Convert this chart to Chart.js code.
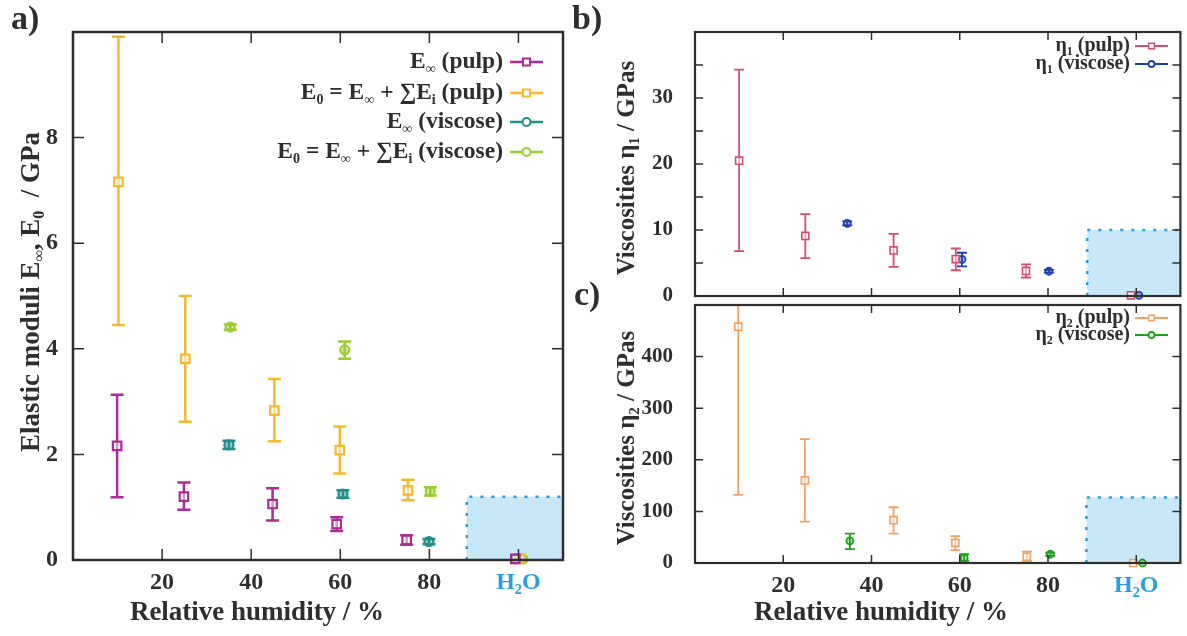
<!DOCTYPE html>
<html>
<head>
<meta charset="utf-8">
<script src="https://cdn.jsdelivr.net/npm/chart.js@4.4.1/dist/chart.umd.min.js"></script>
<style>
  html, body { margin: 0; padding: 0; background: #fff; }
  #wrap { position: relative; width: 1187px; height: 636px; }
  #wrap canvas { position: absolute; left: 0; top: 0; }
</style>
</head>
<body>
<div id="wrap">
  <canvas id="chart-a" width="1187" height="636"></canvas>
  <canvas id="chart-b" width="1187" height="636"></canvas>
  <canvas id="chart-c" width="1187" height="636"></canvas>
</div>
<script>
const serif = '"Liberation Serif", "Times New Roman", serif';
const ink = "#2e2e2e";
const water = "#2a9fe0";
const shadeFill = "#c8e8f7";

// Shared x axis: relative humidity in %, pure water parked at 100.
const rhTicks = [20, 40, 60, 80, 100];
const rhTickLabels = ["20", "40", "60", "80", "H₂O"];

// a) elastic moduli, GPa
const modTicks = [0, 2, 4, 6, 8];
const modTickLabels = ["0", "2", "4", "6", "8"];
const eInfPulpRH = [9.9, 24.9, 44.8, 59.2, 74.9, 99.3];
const eInfPulp = [2.16, 1.2, 1.06, 0.68, 0.38, 0.02];
const eInfPulpLo = [1.19, 0.95, 0.75, 0.55, 0.29, 0.02];
const eInfPulpHi = [3.13, 1.47, 1.36, 0.81, 0.47, 0.02];
const e0PulpRH = [10.2, 25.2, 45.2, 59.9, 75.2, 100.5];
const e0Pulp = [7.16, 3.81, 2.83, 2.08, 1.32, 0.02];
const e0PulpLo = [4.45, 2.62, 2.25, 1.64, 1.13, 0.02];
const e0PulpHi = [9.91, 5.0, 3.43, 2.53, 1.52, 0.02];
const eInfViscRH = [35.0, 60.6, 79.9, 99.3];
const eInfVisc = [2.18, 1.25, 0.35, 0.02];
const eInfViscLo = [2.1, 1.18, 0.3, 0.02];
const eInfViscHi = [2.26, 1.32, 0.4, 0.02];
const e0ViscRH = [35.3, 61.0, 80.2, 101.0];
const e0Visc = [4.41, 3.98, 1.3, 0.02];
const e0ViscLo = [4.36, 3.81, 1.22, 0.02];
const e0ViscHi = [4.46, 4.14, 1.38, 0.02];
const waterBoxA = [88.4, 110, 0, 1.2];

// b) viscosity eta1, GPas
const eta1Ticks = [0, 5, 10, 15, 20, 25, 30, 35];
const eta1TickLabels = ["0", "", "10", "", "20", "", "30", ""];
const eta1PulpRH = [10.0, 25.0, 45.0, 59.1, 75.0, 98.8];
const eta1Pulp = [20.5, 9.1, 6.9, 5.6, 3.8, 0.1];
const eta1PulpLo = [6.8, 5.75, 4.4, 3.9, 2.8, 0.1];
const eta1PulpHi = [34.3, 12.4, 9.4, 7.2, 4.8, 0.1];
const eta1ViscRH = [34.5, 60.5, 80.2, 100.6];
const eta1Visc = [11.0, 5.55, 3.75, 0.1];
const eta1ViscLo = [10.7, 4.5, 3.55, 0.1];
const eta1ViscHi = [11.3, 6.55, 3.95, 0.1];
const waterBoxB = [88.9, 110, 0, 10];

// c) viscosity eta2, GPas
const eta2Ticks = [0, 100, 200, 300, 400];
const eta2TickLabels = ["0", "100", "200", "300", "400"];
const eta2PulpRH = [9.8, 24.9, 45.0, 59.0, 75.2, 99.3];
const eta2Pulp = [458, 160, 83, 39, 12, 0];
const eta2PulpLo = [132, 80, 57, 25, 4, 0];
const eta2PulpHi = [560, 240, 108, 52, 22, 0];
const eta2ViscRH = [35.1, 61.0, 80.5, 101.4];
const eta2Visc = [43, 10, 17, 0];
const eta2ViscLo = [27, 4, 14, 0];
const eta2ViscHi = [57, 17, 20, 0];
const waterBoxC = [88.7, 110, 0, 127];

// Draws text with subscripts; nested arrays are subscript runs.
function drawRich(ctx, parts, x, y, size, align) {
  const base = "bold " + size + "px " + serif;
  const small = "bold " + Math.round(size * 0.6) + "px " + serif;
  let total = 0;
  const segs = parts.map((p) => {
    const sub = Array.isArray(p);
    const t = sub ? p[0] : p;
    ctx.font = sub ? small : base;
    const w = ctx.measureText(t).width;
    total += w;
    return { t, sub, w };
  });
  let cx = align === "right" ? x - total : align === "center" ? x - total / 2 : x;
  ctx.textAlign = "left";
  ctx.textBaseline = "middle";
  segs.forEach((s) => {
    ctx.font = s.sub ? small : base;
    ctx.fillText(s.t, cx, s.sub ? y + size * 0.3 : y);
    cx += s.w;
  });
}

function drawMark(ctx, style, x, y, r, color, fill, w) {
  ctx.save();
  ctx.strokeStyle = color;
  ctx.fillStyle = fill;
  ctx.lineWidth = w;
  ctx.beginPath();
  if (style === "rect") {
    const s = r * Math.SQRT1_2;
    ctx.rect(x - s, y - s, 2 * s, 2 * s);
  } else {
    ctx.arc(x, y, r, 0, Math.PI * 2);
  }
  ctx.fill();
  ctx.stroke();
  ctx.restore();
}

function series(rh, val, lo, hi, color, fill, style, radius, width) {
  return {
    data: rh.map((x, i) => ({ x: x, y: val[i] })),
    errLo: lo,
    errHi: hi,
    borderColor: color,
    backgroundColor: fill,
    pointStyle: style,
    pointRadius: radius,
    pointHoverRadius: radius,
    pointBorderWidth: width,
    showLine: false,
    clip: false,
  };
}

// Frame, inward ticks, error bars, water box, legend and titles.
function panelPlugin(cfg) {
  return {
    id: "panel",
    beforeDatasetsDraw(chart) {
      const { ctx, chartArea: area, scales: { x, y } } = chart;
      const b = cfg.box;
      const l = x.getPixelForValue(b[0]), r = x.getPixelForValue(b[1]);
      const t = y.getPixelForValue(b[3]), bt = y.getPixelForValue(b[2]);
      ctx.save();
      ctx.fillStyle = shadeFill;
      ctx.fillRect(l, t, r - l, bt - t);
      ctx.strokeStyle = water;
      ctx.lineWidth = 2.5;
      ctx.setLineDash([3, 8]);
      ctx.beginPath();
      ctx.moveTo(l, bt);
      ctx.lineTo(l, t);
      ctx.lineTo(r, t);
      ctx.stroke();
      ctx.restore();

      ctx.save();
      ctx.beginPath();
      ctx.rect(area.left, area.top, area.right - area.left, area.bottom - area.top);
      ctx.clip();
      chart.data.datasets.forEach((ds) => {
        ctx.strokeStyle = ds.borderColor;
        ctx.lineWidth = cfg.barWidth;
        ds.data.forEach((p, i) => {
          if (ds.errHi[i] - ds.errLo[i] <= 0) return;
          const px = x.getPixelForValue(p.x);
          const pl = y.getPixelForValue(ds.errLo[i]);
          const ph = y.getPixelForValue(ds.errHi[i]);
          ctx.beginPath();
          ctx.moveTo(px, pl);
          ctx.lineTo(px, ph);
          ctx.moveTo(px - cfg.cap, pl);
          ctx.lineTo(px + cfg.cap, pl);
          ctx.moveTo(px - cfg.cap, ph);
          ctx.lineTo(px + cfg.cap, ph);
          ctx.stroke();
        });
      });
      ctx.restore();
    },
    afterDraw(chart) {
      const { ctx, chartArea: area, scales: { x, y } } = chart;
      ctx.save();
      ctx.strokeStyle = ink;
      ctx.lineWidth = cfg.frame;
      ctx.strokeRect(area.left, area.top, area.right - area.left, area.bottom - area.top);
      ctx.lineWidth = 1.5;
      ctx.beginPath();
      x.ticks.forEach((tk) => {
        const px = x.getPixelForValue(tk.value);
        ctx.moveTo(px, area.bottom);
        ctx.lineTo(px, area.bottom - cfg.tick);
        ctx.moveTo(px, area.top);
        ctx.lineTo(px, area.top + cfg.tick);
      });
      y.ticks.forEach((tk) => {
        const py = y.getPixelForValue(tk.value);
        ctx.moveTo(area.left, py);
        ctx.lineTo(area.left + cfg.tick, py);
        ctx.moveTo(area.right, py);
        ctx.lineTo(area.right - cfg.tick, py);
      });
      ctx.stroke();

      const lg = cfg.legend;
      lg.entries.forEach((e, i) => {
        const ry = lg.rows[i];
        ctx.fillStyle = ink;
        drawRich(ctx, e.text, lg.right, ry, lg.size, "right");
        ctx.strokeStyle = e.color;
        ctx.lineWidth = cfg.barWidth;
        ctx.beginPath();
        ctx.moveTo(lg.from, ry);
        ctx.lineTo(lg.to, ry);
        ctx.stroke();
        drawMark(ctx, e.style, (lg.from + lg.to) / 2, ry, e.r, e.color, e.fill, e.w);
      });

      ctx.fillStyle = ink;
      cfg.texts.forEach((tx) => {
        if (tx.rotate) {
          ctx.save();
          ctx.translate(tx.x, tx.y);
          ctx.rotate(-Math.PI / 2);
          drawRich(ctx, tx.parts, 0, 0, tx.size, "center");
          ctx.restore();
        } else {
          drawRich(ctx, tx.parts, tx.x, tx.y, tx.size, tx.align || "center");
        }
      });
      ctx.restore();
    },
  };
}

function xAxis(showLabels, size, height) {
  return {
    type: "linear",
    min: 0,
    max: 110,
    afterBuildTicks: (s) => { s.ticks = rhTicks.map((v) => ({ value: v })); },
    afterFit: (s) => { s.height = height; },
    grid: { display: false },
    border: { display: false },
    ticks: {
      display: showLabels,
      padding: 0,
      callback: (v, i) => rhTickLabels[i],
      color: (c) => (c.tick && c.tick.value === 100 ? water : ink),
      font: { family: serif, weight: "bold", size: size },
    },
  };
}

function yAxis(max, ticks, labels, width, size, pad) {
  return {
    type: "linear",
    min: 0,
    max: max,
    afterBuildTicks: (s) => { s.ticks = ticks.map((v) => ({ value: v })); },
    afterFit: (s) => { s.width = width; },
    grid: { display: false },
    border: { display: false },
    ticks: {
      padding: pad,
      callback: (v, i) => labels[i],
      color: ink,
      font: { family: serif, weight: "bold", size: size },
    },
  };
}

function baseOptions(padding, xs, ys) {
  return {
    responsive: false,
    devicePixelRatio: 1,
    animation: false,
    events: [],
    layout: { padding: padding },
    plugins: { legend: { display: false }, tooltip: { enabled: false } },
    scales: { x: xs, y: ys },
  };
}

const magenta = "#ad2a98", amber = "#f6b92b", teal = "#1f8f8c", lime = "#9acd32";
const rose = "#d44d72", navy = "#1b3fae", orange = "#f3a060", green = "#1ea21e";

new Chart(document.getElementById("chart-a"), {
  type: "scatter",
  data: {
    datasets: [
      series(eInfPulpRH, eInfPulp, eInfPulpLo, eInfPulpHi, magenta, "rgba(255,255,255,0.5)", "rect", 6, 2.2),
      series(e0PulpRH, e0Pulp, e0PulpLo, e0PulpHi, amber, "rgba(255,255,255,0.5)", "rect", 6, 2.2),
      series(eInfViscRH, eInfVisc, eInfViscLo, eInfViscHi, teal, "rgba(31,143,140,0.45)", "circle", 4.5, 2.2),
      series(e0ViscRH, e0Visc, e0ViscLo, e0ViscHi, lime, "rgba(154,205,50,0.45)", "circle", 4.5, 2.2),
    ],
  },
  options: baseOptions({ left: 0, right: 624, top: 32, bottom: 0 },
    xAxis(true, 24, 76), yAxis(10, modTicks, modTickLabels, 73, 24, 7)),
  plugins: [panelPlugin({
    box: waterBoxA, barWidth: 2.5, cap: 6.5, frame: 2.5, tick: 11,
    legend: {
      right: 503, from: 510, to: 543, size: 23.5, rows: [62, 93, 122, 152],
      entries: [
        { text: ["E", ["∞"], " (pulp)"], color: magenta, style: "rect", r: 5, fill: "#fff", w: 2 },
        { text: ["E", ["0"], " = E", ["∞"], " + ∑E", ["i"], " (pulp)"], color: amber, style: "rect", r: 5, fill: "#fff", w: 2 },
        { text: ["E", ["∞"], " (viscose)"], color: teal, style: "circle", r: 4, fill: "#fff", w: 2 },
        { text: ["E", ["0"], " = E", ["∞"], " + ∑E", ["i"], " (viscose)"], color: lime, style: "circle", r: 4, fill: "#fff", w: 2 },
      ],
    },
    texts: [
      { parts: ["a)"], x: 11, y: 20, size: 34, align: "left" },
      { parts: ["Elastic moduli E", ["∞"], ", E", ["0"], "  / GPa"], x: 32, y: 292, size: 27, rotate: true },
      { parts: ["Relative humidity / %"], x: 257, y: 613, size: 27 },
    ],
  })],
});

new Chart(document.getElementById("chart-b"), {
  type: "scatter",
  data: {
    datasets: [
      series(eta1PulpRH, eta1Pulp, eta1PulpLo, eta1PulpHi, rose, "rgba(255,255,255,0.5)", "rect", 5, 1.6),
      series(eta1ViscRH, eta1Visc, eta1ViscLo, eta1ViscHi, navy, "rgba(27,63,174,0.35)", "circle", 3.5, 1.8),
    ],
  },
  options: baseOptions({ left: 635, right: 1, top: 32, bottom: 340 },
    xAxis(false, 22, 0), yAxis(40, eta1Ticks, eta1TickLabels, 60, 21, 14)),
  plugins: [panelPlugin({
    box: waterBoxB, barWidth: 1.8, cap: 5, frame: 2.2, tick: 8,
    legend: {
      right: 1130, from: 1135, to: 1168, size: 20, rows: [46, 64],
      entries: [
        { text: ["η", ["1"], " (pulp)"], color: rose, style: "rect", r: 4, fill: "#fff", w: 1.5 },
        { text: ["η", ["1"], " (viscose)"], color: navy, style: "circle", r: 3, fill: "#fff", w: 1.8 },
      ],
    },
    texts: [
      { parts: ["b)"], x: 572, y: 20, size: 34, align: "left" },
      { parts: ["Viscosities η", ["1"], " / GPas"], x: 628, y: 168, size: 25, rotate: true },
    ],
  })],
});

new Chart(document.getElementById("chart-c"), {
  type: "scatter",
  data: {
    datasets: [
      series(eta2PulpRH, eta2Pulp, eta2PulpLo, eta2PulpHi, orange, "rgba(255,255,255,0.5)", "rect", 5, 1.6),
      series(eta2ViscRH, eta2Visc, eta2ViscLo, eta2ViscHi, green, "rgba(30,162,30,0.35)", "circle", 3.5, 1.8),
    ],
  },
  options: baseOptions({ left: 635, right: 1, top: 305, bottom: 0 },
    xAxis(true, 24, 73), yAxis(500, eta2Ticks, eta2TickLabels, 60, 21, 14)),
  plugins: [panelPlugin({
    box: waterBoxC, barWidth: 1.8, cap: 5, frame: 2.2, tick: 8,
    legend: {
      right: 1130, from: 1135, to: 1168, size: 20, rows: [318, 335],
      entries: [
        { text: ["η", ["2"], " (pulp)"], color: orange, style: "rect", r: 4, fill: "#fff", w: 1.5 },
        { text: ["η", ["2"], " (viscose)"], color: green, style: "circle", r: 3, fill: "#fff", w: 1.8 },
      ],
    },
    texts: [
      { parts: ["c)"], x: 574, y: 296, size: 34, align: "left" },
      { parts: ["Viscosities η", ["2"], " / GPas"], x: 628, y: 438, size: 25, rotate: true },
      { parts: ["Relative humidity / %"], x: 881, y: 613, size: 27 },
    ],
  })],
});
</script>
</body>
</html>
